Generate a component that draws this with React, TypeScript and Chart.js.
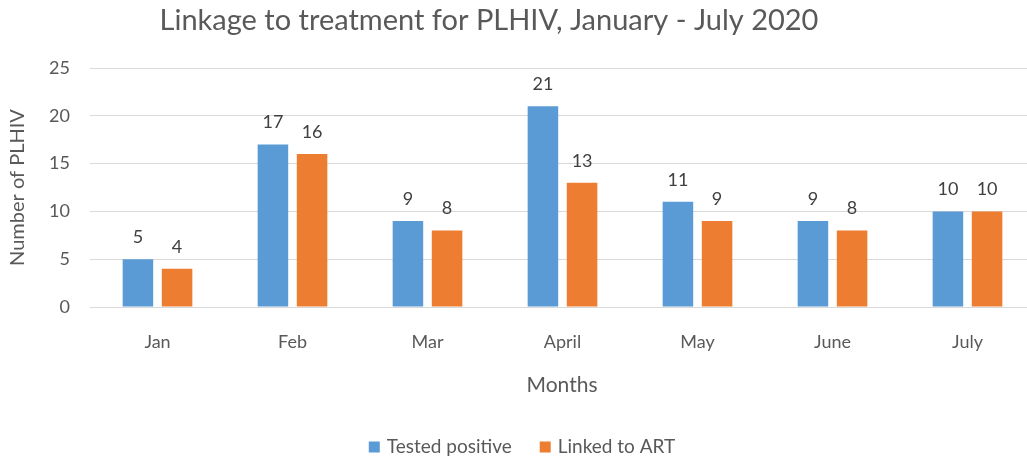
import React, { useEffect, useRef } from "react";
import { Chart, registerables } from "chart.js";

Chart.register(...registerables);

const months = ["Jan", "Feb", "Mar", "April", "May", "June", "July"];
const testedPositive = [5, 17, 9, 21, 11, 9, 10];
const linkedToART = [4, 16, 8, 13, 9, 8, 10];
const seriesNames = ["Tested positive", "Linked to ART"];
const seriesColors = ["#5B9BD5", "#ED7D31"];
const chartTitle = "Linkage to treatment for PLHIV, January - July 2020";
const xTitle = "Months";
const yTitle = "Number of PLHIV";

const FONT = "Lato, 'Open Sans', sans-serif";
const TEXT = "#595959";

const decorPlugin = {
  id: "decor",
  afterDraw(chart: any) {
    const ctx = chart.ctx;
    const area = chart.chartArea;
    ctx.save();
    // title
    ctx.fillStyle = TEXT;
    ctx.font = `29px ${FONT}`;
    ctx.textAlign = "center";
    ctx.textBaseline = "middle";
    ctx.fillText(chartTitle, 489, 21);
    // x title
    ctx.font = `21px ${FONT}`;
    ctx.fillText(xTitle, 562, 385);
    // y title
    ctx.save();
    ctx.translate(18, (area.top + area.bottom) / 2);
    ctx.rotate(-Math.PI / 2);
    ctx.font = `20px ${FONT}`;
    ctx.fillText(yTitle, 0, 0);
    ctx.restore();
    // legend
    ctx.font = `19px ${FONT}`;
    ctx.textAlign = "left";
    const items = seriesNames.map((n, i) => ({ n, c: seriesColors[i], w: ctx.measureText(n).width }));
    const box = 11, gap1 = 7, gap2 = 28;
    const total = items.reduce((s, it) => s + box + gap1 + it.w, 0) + gap2 * (items.length - 1);
    let x = 522 - total / 2;
    const ly = 447;
    items.forEach((it) => {
      ctx.fillStyle = it.c;
      ctx.fillRect(x, ly - box / 2, box, box);
      x += box + gap1;
      ctx.fillStyle = TEXT;
      ctx.fillText(it.n, x, ly);
      x += it.w + gap2;
    });
    // data labels
    ctx.font = `18px ${FONT}`;
    ctx.textAlign = "center";
    ctx.fillStyle = "#404040";
    chart.data.datasets.forEach((ds: any, di: number) => {
      const meta = chart.getDatasetMeta(di);
      meta.data.forEach((el: any, i: number) => {
        ctx.fillText(String(ds.data[i]), el.x, el.y - 22);
      });
    });
    ctx.restore();
  },
};

export default function App() {
  const ref = useRef<HTMLCanvasElement>(null);
  useEffect(() => {
    if (!ref.current) return;
    const chart = new Chart(ref.current, {
      type: "bar",
      data: {
        labels: months,
        datasets: [
          {
            label: seriesNames[0],
            data: testedPositive,
            backgroundColor: seriesColors[0],
            categoryPercentage: 0.58,
            barPercentage: 0.78,
          },
          {
            label: seriesNames[1],
            data: linkedToART,
            backgroundColor: seriesColors[1],
            categoryPercentage: 0.58,
            barPercentage: 0.78,
          },
        ],
      },
      options: {
        responsive: false,
        animation: false,
        layout: { padding: { left: 0, right: 0, top: 68, bottom: 82 } },
        plugins: {
          legend: { display: false },
          title: { display: false },
          tooltip: { enabled: false },
        },
        scales: {
          x: {
            grid: { display: false, drawTicks: false },
            border: { display: false },
            ticks: { color: TEXT, font: { family: FONT, size: 18 }, padding: 24 },
            afterFit: (s: any) => {
              s.height = 70;
            },
          },
          y: {
            min: 0,
            max: 25,
            ticks: { stepSize: 5, color: TEXT, font: { family: FONT, size: 18 }, padding: 20 },
            grid: { color: "#D9D9D9", drawTicks: false },
            border: { display: false },
            afterFit: (s: any) => {
              s.width = 90;
            },
          },
        },
      },
      plugins: [decorPlugin],
    });
    return () => chart.destroy();
  }, []);
  return (
    <div
      style={{
        position: "absolute",
        left: 0,
        top: 0,
        width: 1027,
        height: 459,
        overflow: "hidden",
        background: "#fff",
      }}
    >
      <canvas ref={ref} width={1035} height={459} style={{ display: "block" }} />
    </div>
  );
}
